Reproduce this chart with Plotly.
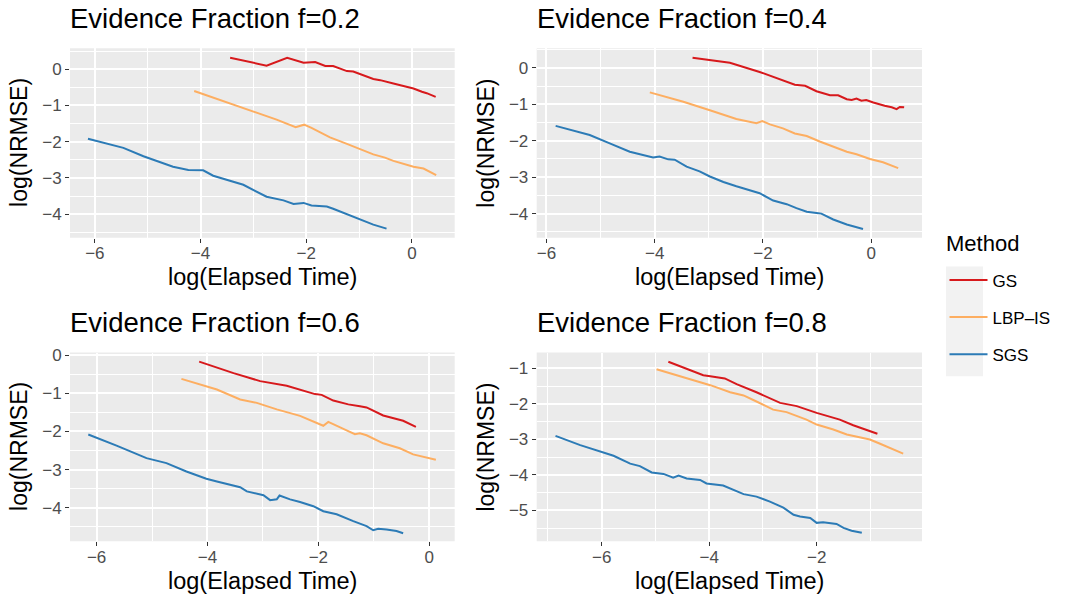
import plotly.graph_objects as go

W, H = 1065, 603

methods = ["GS", "LBP-IS", "SGS"]
legend_labels = {"GS": "GS", "LBP-IS": "LBP\u2013IS", "SGS": "SGS"}
colors = {"GS": "#D7191C", "LBP-IS": "#FDAE61", "SGS": "#2C7BB6"}
panel_titles = ["Evidence Fraction f=0.2", "Evidence Fraction f=0.4",
                "Evidence Fraction f=0.6", "Evidence Fraction f=0.8"]

# ---- f = 0.2 ----
f02_gs_x = [-3.44, -2.75, -2.36, -2.05, -1.83, -1.64, -1.49, -1.23, -1.11, -0.92, -0.73, -0.60, -0.44, -0.35, -0.16, 0.03, 0.19, 0.28, 0.45]
f02_gs_y = [0.32, 0.10, 0.32, 0.18, 0.20, 0.09, 0.09, -0.05, -0.06, -0.16, -0.27, -0.30, -0.37, -0.39, -0.46, -0.53, -0.62, -0.66, -0.76]
f02_lbp_x = [-4.12, -3.44, -3.00, -2.56, -2.20, -2.04, -1.90, -1.55, -1.23, -1.01, -0.73, -0.51, -0.35, 0.03, 0.22, 0.46]
f02_lbp_y = [-0.60, -0.94, -1.18, -1.39, -1.60, -1.53, -1.62, -1.88, -2.06, -2.19, -2.35, -2.44, -2.53, -2.69, -2.74, -2.92]
f02_sgs_x = [-6.13, -5.46, -5.08, -4.52, -4.23, -3.95, -3.76, -3.38, -3.19, -2.75, -2.43, -2.24, -2.05, -1.90, -1.61, -1.49, -1.11, -0.92, -0.73, -0.48]
f02_sgs_y = [-1.92, -2.17, -2.40, -2.69, -2.78, -2.79, -2.94, -3.12, -3.19, -3.52, -3.62, -3.72, -3.69, -3.76, -3.79, -3.85, -4.06, -4.17, -4.29, -4.40]

# ---- f = 0.4 ----
f04_gs_x = [-3.30, -2.61, -2.06, -1.69, -1.41, -1.22, -1.01, -0.76, -0.61, -0.45, -0.36, -0.27, -0.18, -0.09, 0.04, 0.25, 0.38, 0.47, 0.53, 0.61]
f04_gs_y = [0.28, 0.14, -0.11, -0.31, -0.46, -0.49, -0.64, -0.75, -0.75, -0.86, -0.88, -0.84, -0.90, -0.88, -0.95, -1.04, -1.08, -1.13, -1.07, -1.08]
f04_lbp_x = [-4.09, -3.47, -2.98, -2.49, -2.12, -2.01, -1.87, -1.63, -1.41, -1.19, -0.95, -0.70, -0.45, -0.27, -0.02, 0.22, 0.50]
f04_lbp_y = [-0.67, -0.93, -1.16, -1.40, -1.52, -1.46, -1.55, -1.66, -1.80, -1.87, -2.02, -2.16, -2.30, -2.37, -2.50, -2.59, -2.75]
f04_sgs_x = [-5.83, -5.20, -4.83, -4.46, -4.03, -3.91, -3.75, -3.63, -3.41, -3.17, -2.98, -2.73, -2.49, -2.24, -2.06, -1.81, -1.56, -1.38, -1.19, -1.01, -0.92, -0.70, -0.45, -0.15]
f04_sgs_y = [-1.59, -1.84, -2.07, -2.30, -2.46, -2.43, -2.51, -2.52, -2.71, -2.84, -2.98, -3.13, -3.25, -3.37, -3.44, -3.64, -3.74, -3.85, -3.95, -3.98, -4.00, -4.16, -4.30, -4.42]

# ---- f = 0.6 ----
f06_gs_x = [-4.15, -3.53, -3.05, -2.57, -2.06, -1.94, -1.73, -1.46, -1.25, -1.13, -0.83, -0.47, -0.24]
f06_gs_y = [-0.17, -0.47, -0.68, -0.80, -1.02, -1.04, -1.19, -1.29, -1.34, -1.37, -1.58, -1.72, -1.88]
f06_lbp_x = [-4.47, -3.83, -3.41, -3.11, -2.75, -2.33, -1.91, -1.82, -1.49, -1.34, -1.25, -1.13, -0.83, -0.53, -0.29, -0.11, 0.12]
f06_lbp_y = [-0.62, -0.90, -1.16, -1.25, -1.42, -1.59, -1.85, -1.75, -1.97, -2.07, -2.05, -2.10, -2.31, -2.44, -2.60, -2.66, -2.74]
f06_sgs_x = [-6.15, -5.64, -5.10, -4.74, -4.38, -4.02, -3.83, -3.59, -3.41, -3.29, -2.99, -2.87, -2.75, -2.70, -2.51, -2.33, -2.09, -1.91, -1.67, -1.37, -1.13, -1.01, -0.92, -0.77, -0.59, -0.47]
f06_sgs_y = [-2.08, -2.37, -2.70, -2.83, -3.05, -3.24, -3.31, -3.39, -3.46, -3.57, -3.67, -3.80, -3.78, -3.68, -3.78, -3.85, -3.96, -4.09, -4.17, -4.35, -4.48, -4.59, -4.55, -4.57, -4.61, -4.67]

# ---- f = 0.8 ----
f08_gs_x = [-4.76, -4.11, -3.98, -3.71, -3.49, -3.12, -2.68, -2.37, -2.00, -1.75, -1.57, -1.32, -1.04, -0.87]
f08_gs_y = [-0.81, -1.19, -1.22, -1.28, -1.44, -1.67, -1.97, -2.06, -2.25, -2.37, -2.44, -2.60, -2.74, -2.84]
f08_lbp_x = [-4.98, -4.48, -3.98, -3.61, -3.36, -3.12, -2.81, -2.56, -2.19, -2.00, -1.69, -1.44, -1.26, -1.01, -0.82, -0.39]
f08_lbp_y = [-1.02, -1.25, -1.47, -1.67, -1.76, -1.93, -2.16, -2.23, -2.44, -2.58, -2.72, -2.86, -2.91, -3.00, -3.12, -3.40]
f08_sgs_x = [-6.86, -6.40, -5.78, -5.47, -5.29, -5.07, -4.85, -4.67, -4.57, -4.42, -4.17, -4.05, -3.74, -3.55, -3.36, -3.12, -2.87, -2.62, -2.43, -2.31, -2.12, -2.00, -1.88, -1.63, -1.50, -1.35, -1.16]
f08_sgs_y = [-2.90, -3.16, -3.46, -3.68, -3.75, -3.93, -3.97, -4.08, -4.02, -4.10, -4.14, -4.24, -4.30, -4.42, -4.54, -4.61, -4.75, -4.92, -5.12, -5.17, -5.21, -5.35, -5.33, -5.38, -5.49, -5.57, -5.63]

panels = [
    {"GS": (f02_gs_x, f02_gs_y), "LBP-IS": (f02_lbp_x, f02_lbp_y), "SGS": (f02_sgs_x, f02_sgs_y)},
    {"GS": (f04_gs_x, f04_gs_y), "LBP-IS": (f04_lbp_x, f04_lbp_y), "SGS": (f04_sgs_x, f04_sgs_y)},
    {"GS": (f06_gs_x, f06_gs_y), "LBP-IS": (f06_lbp_x, f06_lbp_y), "SGS": (f06_sgs_x, f06_sgs_y)},
    {"GS": (f08_gs_x, f08_gs_y), "LBP-IS": (f08_lbp_x, f08_lbp_y), "SGS": (f08_sgs_x, f08_sgs_y)},
]

x_ranges = [[-6.47, 0.81], [-6.18, 0.94], [-6.48, 0.46], [-7.21, -0.04]]
y_ranges = [[-4.65, 0.58], [-4.66, 0.54], [-4.88, 0.07], [-5.87, -0.55]]

# panel boxes in pixels (left, right, top, bottom)
boxes = [(70, 454.7, 42.7, 234), (536.7, 922, 42.7, 234),
         (70, 454.7, 350, 540.7), (536.7, 922, 350, 540.7)]

FONT = "Liberation Sans, Arial, sans-serif"
fig = go.Figure()

for i, pdata in enumerate(panels):
    n = i + 1
    xa = "x" if n == 1 else f"x{n}"
    ya = "y" if n == 1 else f"y{n}"
    for m in methods:
        xs, ys = pdata[m]
        fig.add_trace(go.Scatter(
            x=xs, y=ys, mode="lines", name=legend_labels[m], xaxis=xa, yaxis=ya,
            line=dict(color=colors[m], width=2),
            showlegend=(i == 0), legendgroup=m))
    l, r, t, b = boxes[i]
    axis_common = dict(showgrid=True, gridcolor="white", gridwidth=1.5,
                       zeroline=False, showline=False, ticks="outside",
                       ticklen=4, tickwidth=1, tickcolor="#333333",
                       tickfont=dict(size=17, color="#4D4D4D", family=FONT))
    minor_common = dict(showgrid=True, gridcolor="white", gridwidth=0.7, ticks="")
    xkey = "xaxis" if n == 1 else f"xaxis{n}"
    ykey = "yaxis" if n == 1 else f"yaxis{n}"
    fig.update_layout(**{
        xkey: dict(domain=[l / W, r / W], anchor=ya, range=x_ranges[i],
                   tickmode="linear", tick0=0, dtick=2, ticklabelstandoff=-4,
                   minor=dict(minor_common, dtick=1, tick0=0), **axis_common),
        ykey: dict(domain=[1 - b / H, 1 - t / H], anchor=xa, range=y_ranges[i],
                   tickmode="linear", tick0=0, dtick=1,
                   minor=dict(minor_common, dtick=0.5, tick0=0), **axis_common),
    })
    # panel title
    fig.add_annotation(text=panel_titles[i], xref="paper", yref="paper",
                       x=(l - 2) / W, y=1 - (t - 30) / H, xanchor="left", yanchor="middle",
                       showarrow=False, font=dict(size=27.5, color="black", family=FONT))
    # x axis title
    fig.add_annotation(text="log(Elapsed Time)", xref="paper", yref="paper",
                       x=(l + r) / 2 / W, y=1 - (b + 40) / H, xanchor="center", yanchor="middle",
                       showarrow=False, font=dict(size=23.5, color="black", family=FONT))
    # y axis title
    fig.add_annotation(text="log(NRMSE)", xref="paper", yref="paper",
                       x=(l - 51) / W, y=1 - (t + b) / 2 / H, xanchor="center", yanchor="middle",
                       textangle=-90, showarrow=False,
                       font=dict(size=23, color="black", family=FONT))
    # panel background
    fig.add_shape(type="rect", xref="paper", yref="paper", layer="below",
                  x0=l / W, x1=r / W, y0=1 - b / H, y1=1 - t / H,
                  fillcolor="#EBEBEB", line=dict(width=0))

# legend title and key background
fig.add_annotation(text="Method", xref="paper", yref="paper",
                   x=944 / W, y=1 - 240 / H, xanchor="left", yanchor="middle",
                   showarrow=False, font=dict(size=22, color="black", family=FONT))
fig.add_shape(type="rect", xref="paper", yref="paper", layer="below",
              x0=946 / W, x1=983 / W, y0=1 - 374 / H, y1=1 - 263 / H,
              fillcolor="#F2F2F2", line=dict(width=0))

fig.update_layout(
    width=W, height=H,
    margin=dict(l=0, r=0, t=0, b=0),
    paper_bgcolor="white", plot_bgcolor="rgba(0,0,0,0)",
    font=dict(family=FONT),
    legend=dict(x=944.5 / W, y=1 - 259 / H, xanchor="left", yanchor="top",
                bgcolor="rgba(0,0,0,0)", tracegroupgap=12,
                itemwidth=38,
                font=dict(size=17, color="black", family=FONT)),
)

fig.write_html("out.html")
